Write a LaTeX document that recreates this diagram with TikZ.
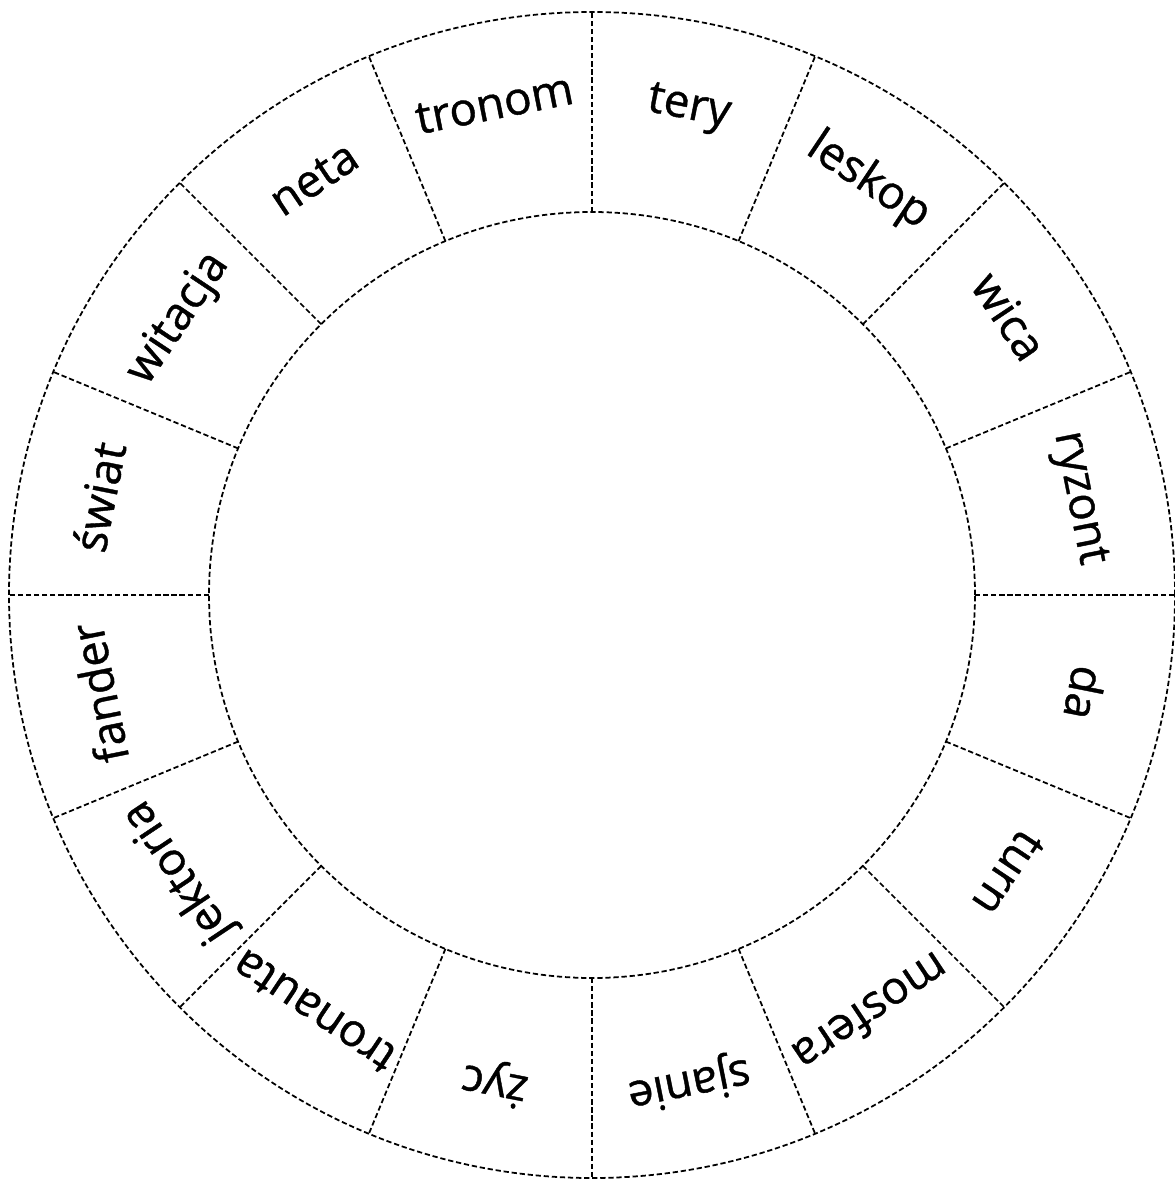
\documentclass[tikz,border=0pt]{standalone}
\usepackage{fontspec}
\setmainfont{Open Sans}
\newfontfamily\wordfont{Open Sans}[BoldFont={Open Sans}, BoldFeatures={FakeBold=0.9}]
\usetikzlibrary{calc}
\begin{document}
\begin{tikzpicture}[x=0.02cm,y=-0.02cm,
  ringline/.style={line width=1pt, dash pattern=on 3pt off 1.6pt},
  word/.style={font=\wordfont\bfseries\fontsize{26}{30}\selectfont, text height=0.75em, text depth=0.25em, inner sep=0pt}]
\useasboundingbox (0,0) rectangle (1175,1180);
\coordinate (c) at (592,595);
\draw[ringline] (c) circle[radius=583*0.02cm];
\draw[ringline] (c) circle[radius=383*0.02cm];
\foreach \k in {0,...,15}{
  \draw[ringline] ($(c)+({\k*22.5}:383*0.02cm)$) -- ($(c)+({\k*22.5}:583*0.02cm)$);
}
\foreach \w/\a/\n in {tronom/101.25/w1, neta/123.75/w2, witacja/146.25/w3, świat/168.75/w4,
  fander/191.25/w5, jektoria/213.75/w6, tronauta/236.25/w7, życ/258.75/w8,
  sjanie/281.25/w9, mosfera/303.75/w10, turn/326.25/w11, da/348.75/w12,
  ryzont/11.25/w13, wica/33.75/w14, leskop/56.25/w15, tery/78.75/w16}{
  \node[word, rotate={\a-90}] (\n) at ($(c)+(\a:490*0.02cm)$) {\w};
}
\end{tikzpicture}
\end{document}
